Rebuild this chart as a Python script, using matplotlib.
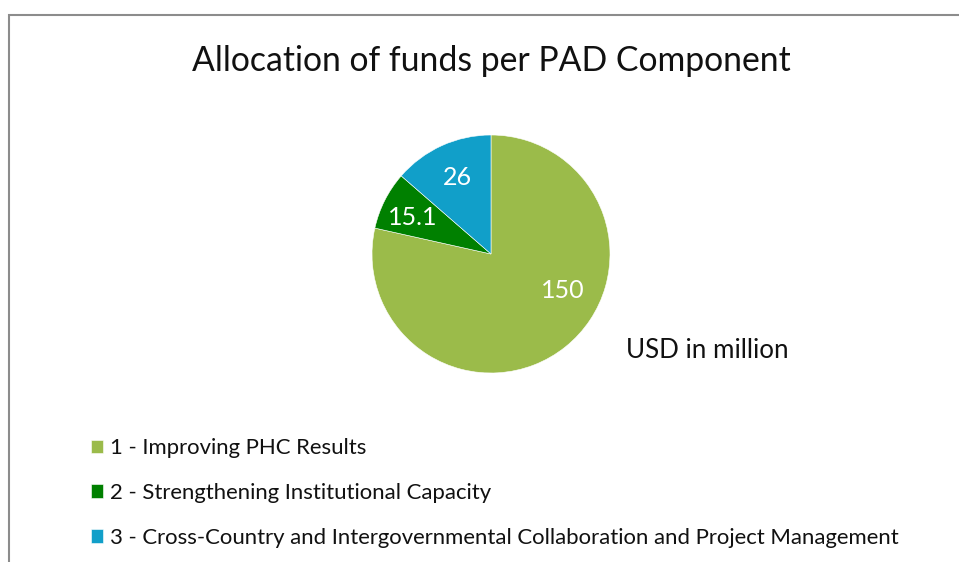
import matplotlib
matplotlib.use("Agg")
import matplotlib.pyplot as plt
import numpy as np
from matplotlib.patches import Rectangle

categories = ["1 - Improving PHC Results",
              "2 - Strengthening Institutional Capacity",
              "3 - Cross-Country and Intergovernmental Collaboration and Project Management"]
values = [150, 15.1, 26]
value_labels = ["150", "15.1", "26"]
colors = ["#9BBB4A", "#008000", "#119FC9"]

plt.rcParams['font.family'] = ['Lato', 'DejaVu Sans']

W, H = 959, 562
fig = plt.figure(figsize=(W / 100, H / 100), dpi=100)

# chart frame (cropped at right and bottom)
fig.add_artist(Rectangle((9 / W, -0.05), 1.0, (H - 15) / H + 0.05, transform=fig.transFigure,
                         fill=False, edgecolor="#8c8c8c", linewidth=1.5))

cx, cy, r = 491, 254, 119
ax = fig.add_axes([(cx - r) / W, (H - cy - r) / H, 2 * r / W, 2 * r / H])
wedges, _ = ax.pie(values, colors=colors, startangle=90, counterclock=False,
                   radius=1.0, wedgeprops=dict(linewidth=0.4, edgecolor="white"))
ax.set_xlim(-1, 1)
ax.set_ylim(-1, 1)
ax.set_aspect("equal")
ax.axis("off")

# label placement (angle in degrees, radial fraction)
label_pos = [(-27, 0.68), (155, 0.73), (113.5, 0.70)]
for txt, (ang, rad) in zip(value_labels, label_pos):
    a = np.deg2rad(ang)
    ax.text(rad * np.cos(a), rad * np.sin(a), txt, ha="center", va="center",
            color="white", fontsize=18)

fig.text(491 / W, 1 - 61 / H, "Allocation of funds per PAD Component",
         ha="center", va="center", fontsize=24.3, color="#111111")
fig.text(626 / W, 1 - 350 / H, "USD in million", ha="left", va="center",
         fontsize=18.7, color="#111111")

leg = fig.legend(wedges, categories, loc="upper left",
                 bbox_to_anchor=(91 / W, 1 - 438 / H), frameon=False,
                 borderpad=0, borderaxespad=0,
                 fontsize=15.9, handlelength=0.55, handleheight=0.55,
                 handletextpad=0.3, labelspacing=1.13)
for t in leg.get_texts():
    t.set_color("#111111")

fig.savefig("out.png", dpi=100)
